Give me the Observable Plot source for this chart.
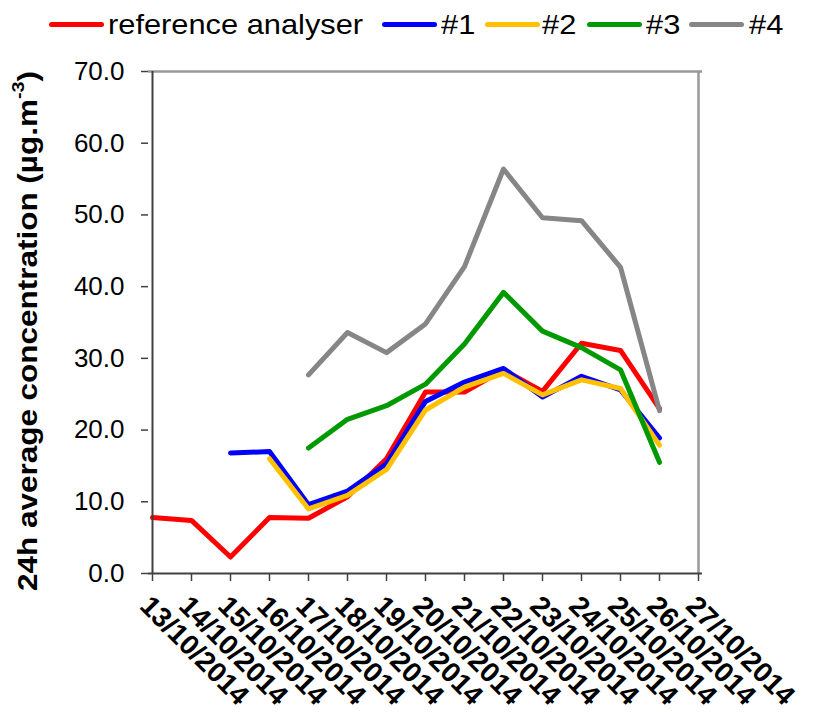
<!DOCTYPE html>
<html><head><meta charset="utf-8">
<script src="https://cdn.jsdelivr.net/npm/d3@7"></script>
<script src="https://cdn.jsdelivr.net/npm/@observablehq/plot@0.6"></script>
<style>
body{margin:0;background:#fff;font-family:"Liberation Sans",Arial,sans-serif;}
#legend{position:relative;height:48px;width:814px;overflow:visible;}
.sw{position:absolute;top:22px;height:5px;border-radius:3px;width:55px}
.lt{position:absolute;top:11px;font-size:28px;line-height:28px;transform-origin:left center;white-space:nowrap;color:#000;transform:scaleX(1.1)}
</style></head><body>
<div id="legend"></div><div id="chart"></div>
<script>
const dates = ["13/10/2014","14/10/2014","15/10/2014","16/10/2014","17/10/2014","18/10/2014","19/10/2014","20/10/2014","21/10/2014","22/10/2014","23/10/2014","24/10/2014","25/10/2014","26/10/2014","27/10/2014"];
const reference = [7.8,7.4,2.3,7.8,7.7,10.7,16.0,25.3,25.3,28.4,25.4,32.1,31.1,23.0,null];
const analyser1 = [null,null,16.8,17.0,9.6,11.5,15.3,24.0,26.7,28.6,24.6,27.5,25.6,18.9,null];
const analyser2 = [null,null,null,16.0,9.0,10.9,14.5,22.8,26.0,27.9,24.9,27.0,25.8,17.9,null];
const analyser3 = [null,null,null,null,17.5,21.5,23.4,26.4,32.0,39.2,33.8,31.5,28.4,15.5,null];
const analyser4 = [null,null,null,null,27.7,33.6,30.8,34.8,42.8,56.4,49.6,49.2,42.7,22.7,null];
const seriesNames = ["reference analyser","#1","#2","#3","#4"];
const seriesValues = [reference, analyser1, analyser2, analyser3, analyser4];
const seriesColors = ["#ff0000","#0000ff","#ffc000","#009900","#868686"];
const yTicks = [0,10,20,30,40,50,60,70];

// legend (HTML, above the SVG)
const legendSwatchX = [49,382,485,587,689];
const legendTextX = [108,441,542,646,749];
const legend = document.getElementById("legend");
seriesNames.forEach((name, i) => {
  const sw = document.createElement("div");
  sw.className = "sw";
  sw.style.left = legendSwatchX[i] + "px";
  sw.style.background = seriesColors[i];
  legend.appendChild(sw);
  const t = document.createElement("div");
  t.className = "lt";
  t.style.left = legendTextX[i] + "px";
  t.textContent = name;
  legend.appendChild(t);
});

const rows = [];
seriesNames.forEach((name, i) => {
  dates.forEach((d, j) => rows.push({series: name, date: d, value: seriesValues[i][j]}));
});

const lineMarks = seriesNames.map((name, i) =>
  Plot.line(rows.filter(r => r.series === name), {
    x: "date", y: "value", stroke: seriesColors[i], strokeWidth: 5,
    strokeLinejoin: "round", strokeLinecap: "round"
  })
);

const plot = Plot.plot({
  width: 814,
  height: 664,
  marginTop: 23,
  marginBottom: 139,
  marginLeft: 148,
  marginRight: 112,
  style: {fontFamily: "'Liberation Sans', Arial, sans-serif", background: "#fff", color: "#000"},
  x: {type: "point", domain: dates, padding: 0},
  y: {domain: [0, 70]},
  marks: [
    Plot.ruleY([70], {stroke: "#999", strokeWidth: 2.5}),
    Plot.ruleX([dates[dates.length - 1]], {stroke: "#999", strokeWidth: 2.5}),
    ...lineMarks,
    Plot.ruleX([dates[0]], {stroke: "#404040", strokeWidth: 2}),
    Plot.ruleY([0], {stroke: "#404040", strokeWidth: 2}),
    Plot.axisY({ticks: yTicks, tickFormat: d => d.toFixed(1), tickSize: 7, tickPadding: 17,
      fontSize: 26, label: null, stroke: "#404040", strokeWidth: 1.5}),
    Plot.axisX({tickRotate: 45, textAnchor: "start", lineAnchor: "top", tickSize: 8, tickPadding: 12,
      fontSize: 28, fontWeight: "bold", label: null, stroke: "#404040", strokeWidth: 1.5})
  ]
});

const svg = d3.select(plot);
const title = svg.append("text")
  .attr("transform", `translate(28, ${331 - 48}) rotate(-90)`)
  .attr("text-anchor", "middle")
  .attr("dominant-baseline", "central")
  .attr("font-size", 27)
  .attr("font-weight", "bold")
  .attr("fill", "#000")
  .attr("textLength", 520)
  .attr("lengthAdjust", "spacingAndGlyphs");
title.append("tspan").text("24h average concentration (µg.m");
title.append("tspan").attr("font-size", 17).attr("dy", -10).text("-3");
title.append("tspan").attr("dy", 10).text(")");

document.getElementById("chart").appendChild(plot);
</script>
</body></html>
